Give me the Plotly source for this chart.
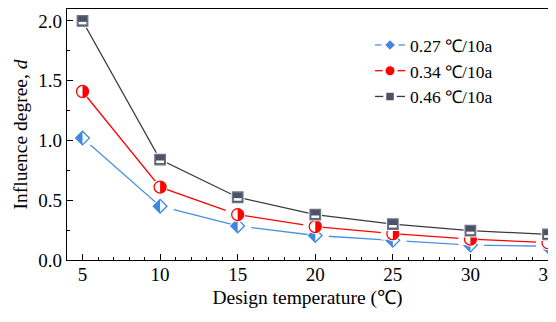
import plotly.graph_objects as go

temps = [5, 10, 15, 20, 25, 30, 35]
d_027 = [1.02, 0.45, 0.285, 0.205, 0.165, 0.125, 0.115]
d_034 = [1.41, 0.61, 0.38, 0.28, 0.22, 0.175, 0.145]
d_046 = [2.00, 0.84, 0.525, 0.38, 0.30, 0.245, 0.215]
names = ["0.27 ℃/10a", "0.34 ℃/10a", "0.46 ℃/10a"]

FONT = "Liberation Serif"
BLUE_LINE = "#4a8fe4"
BLUE = "#3f87e0"
RED = "#ff0000"
DARK_LINE = "#3a3a3a"
SLATE = "#4b5467"
SLATE_EDGE = "#6e7583"

fig = go.Figure()


def add_series(y, name, line_color, fill_color, edge_color, sym, size, cover):
    # line + marker with white halo (gap between line and marker), legend entry
    fig.add_trace(go.Scatter(x=temps, y=y, mode="lines+markers", name=name,
                             line=dict(color=line_color, width=1.3),
                             marker=dict(symbol=sym, size=size, color=fill_color,
                                         line=dict(color="white", width=3))))
    # solid fill (without halo shrinking it)
    fig.add_trace(go.Scatter(x=temps, y=y, mode="markers", showlegend=False, hoverinfo="skip",
                             marker=dict(symbol=sym, size=size, color=fill_color,
                                         line=dict(width=0))))
    # white half cover
    fig.add_trace(go.Scatter(x=temps, y=y, mode="markers", showlegend=False, hoverinfo="skip",
                             marker=cover))
    # outline
    fig.add_trace(go.Scatter(x=temps, y=y, mode="markers", showlegend=False, hoverinfo="skip",
                             marker=dict(symbol=sym + "-open", size=size, color=edge_color,
                                         line=dict(color=edge_color, width=1.3))))


add_series(d_027, names[0], BLUE_LINE, BLUE, BLUE, "diamond", 10.5,
           dict(symbol="square", size=13.6, color="white", angle=-90, standoff=6.8,
                line=dict(width=0)))
add_series(d_034, names[1], RED, RED, RED, "circle", 12,
           dict(symbol="square", size=12, color="white", angle=90, standoff=6,
                line=dict(width=0)))
add_series(d_046, names[2], DARK_LINE, SLATE, SLATE_EDGE, "square", 10.5,
           dict(symbol="line-ew", size=5.6, color="white", angle=0, standoff=2.2,
                line=dict(color="white", width=2.6)))

axis_common = dict(showline=True, linecolor="black", linewidth=1.3, mirror=True,
                   ticks="inside", ticklen=6, tickwidth=1.2, tickcolor="black",
                   showgrid=False, zeroline=False, automargin=False,
                   tickfont=dict(family=FONT, size=19, color="black"))

fig.update_layout(
    width=556, height=322,
    margin=dict(l=59, r=16, t=1, b=70),
    paper_bgcolor="white", plot_bgcolor="white",
    font=dict(family=FONT, size=19, color="black"),
    legend=dict(x=0.63, y=0.928, xanchor="left", yanchor="top",
                bgcolor="rgba(0,0,0,0)", borderwidth=0,
                font=dict(family=FONT, size=17.5, color="black"),
                tracegroupgap=0, itemwidth=30),
    xaxis=dict(range=[4, 35], tickvals=temps, ticktext=[str(t) for t in temps],
               ticklabelstandoff=-3,
               title=dict(text="Design temperature (℃)", standoff=6,
                          font=dict(family=FONT, size=19.5)),
               minor=dict(dtick=1, ticks="inside", ticklen=3, tickwidth=1, tickcolor="black"),
               **axis_common),
    yaxis=dict(range=[0, 2.1], tickvals=[0, 0.5, 1.0, 1.5, 2.0],
               ticktext=["0.0", "0.5", "1.0", "1.5", "2.0"],
               title=dict(text="Influence degree, <i>d</i>", standoff=5,
                          font=dict(family=FONT, size=19.5)),
               minor=dict(dtick=0.25, tick0=0, ticks="inside", ticklen=3, tickwidth=1, tickcolor="black"),
               **axis_common),
)

fig.write_html("out.html")
